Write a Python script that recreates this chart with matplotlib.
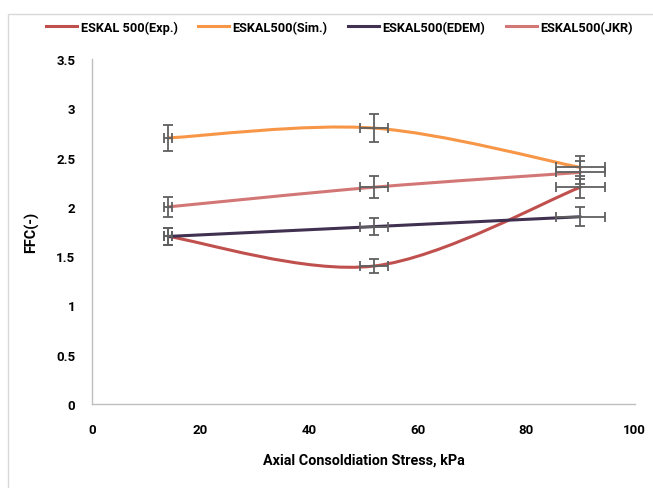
import numpy as np
import matplotlib.pyplot as plt
from matplotlib.path import Path
from matplotlib.patches import PathPatch, Rectangle
from matplotlib.lines import Line2D

plt.rcParams['font.family'] = ['Roboto', 'DejaVu Sans']
plt.rcParams['font.weight'] = 'bold'

stress = [14, 52, 90]
stress_err = [0.7, 2.6, 4.5]

ffc_exp = [1.7, 1.4, 2.2]
ffc_sim = [2.7, 2.8, 2.4]
ffc_edem = [1.7, 1.8, 1.9]
ffc_jkr = [2.0, 2.2, 2.35]

err_exp = [0.085, 0.07, 0.11]
err_sim = [0.135, 0.14, 0.12]
err_edem = [0.085, 0.09, 0.095]
err_jkr = [0.10, 0.11, 0.1175]

labels = ['ESKAL 500(Exp.)', 'ESKAL500(Sim.)', 'ESKAL500(EDEM)', 'ESKAL500(JKR)']
colors = ['#c0504d', '#f79646', '#403151', '#d37676']
x_ticks = [0, 20, 40, 60, 80, 100]
y_ticks = [0, 0.5, 1, 1.5, 2, 2.5, 3, 3.5]
y_tick_labels = ['0', '0.5', '1', '1.5', '2', '2.5', '3', '3.5']


def smooth_path(xs, ys):
    # bezier segments like a spreadsheet "smoothed line"
    pts = np.column_stack([xs, ys]).astype(float)
    n = len(pts)
    verts = [pts[0]]
    codes = [Path.MOVETO]
    for i in range(n - 1):
        p0 = pts[max(i - 1, 0)]
        p1 = pts[i]
        p2 = pts[i + 1]
        p3 = pts[min(i + 2, n - 1)]
        c1 = p1 + (p2 - p0) / 6
        c2 = p2 - (p3 - p1) / 6
        verts += [c1, c2, p2]
        codes += [Path.CURVE4] * 3
    return Path(verts, codes)


fig = plt.figure(figsize=(6.53, 4.89), dpi=100)
ax = fig.add_axes([0.141, 0.172, 0.831, 0.705])

# chart border
fig.patches.append(Rectangle((8 / 653, -0.1), 1.2, 1 - 15 / 489 + 0.1,
                             transform=fig.transFigure, fill=False,
                             edgecolor='#d9d9d9', linewidth=1))

series = [ffc_exp, ffc_sim, ffc_edem, ffc_jkr]
errors = [err_exp, err_sim, err_edem, err_jkr]

for vals, col in zip(series, colors):
    ax.add_patch(PathPatch(smooth_path(stress, vals), facecolor='none',
                           edgecolor=col, linewidth=2.2, capstyle='round'))

for vals, errs in zip(series, errors):
    ax.errorbar(stress, vals, xerr=stress_err, yerr=errs, fmt='none',
                ecolor='#606060', elinewidth=1.3, capsize=3.5, capthick=1.3,
                zorder=3)

ax.set_xlim(0, 100)
ax.set_ylim(0, 3.5)
ax.set_xticks(x_ticks)
ax.set_yticks(y_ticks)
ax.set_yticklabels(y_tick_labels)
ax.tick_params(length=0, labelsize=9.5, pad=14)
ax.tick_params(axis='y', pad=12)
for lab in ax.get_xticklabels() + ax.get_yticklabels():
    lab.set_fontweight('bold')

for s in ['top', 'right']:
    ax.spines[s].set_visible(False)
for s in ['left', 'bottom']:
    ax.spines[s].set_color('#bfbfbf')
    ax.spines[s].set_linewidth(1)

ax.set_xlabel('Axial Consoldiation Stress, kPa', fontsize=10.4,
              fontweight='bold', labelpad=12)
ax.set_ylabel('FFC(-)', fontsize=10.4, fontweight='bold', labelpad=12)

handles = [Line2D([], [], color=c, linewidth=2.2) for c in colors]
fig.legend(handles, labels, loc='center', bbox_to_anchor=(0.52, 1 - 28 / 489),
           ncol=4, frameon=False, handlelength=2.4,
           handletextpad=0.3, columnspacing=1.6,
           prop={'weight': 'bold', 'size': 9.2})

fig.savefig('out.png', dpi=100)
